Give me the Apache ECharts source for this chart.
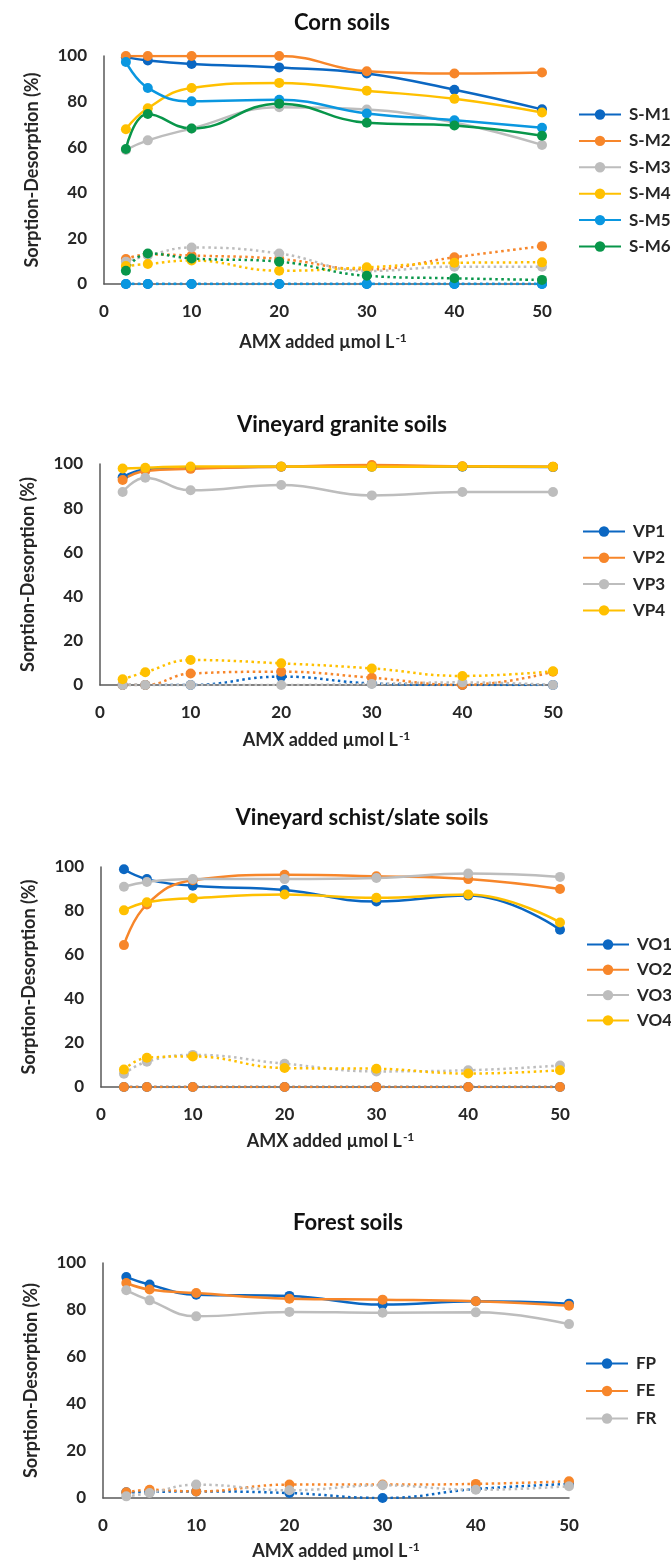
<!DOCTYPE html>
<html>
<head>
<meta charset="utf-8">
<script src="https://cdn.jsdelivr.net/npm/echarts@6/dist/echarts.min.js"></script>
<style>
html,body{margin:0;padding:0;background:#fff;}
#chart{width:671px;height:1563px;}
</style>
</head>
<body>
<div id="chart"></div>
<script>
// ---- data ----
const xVals = [2.5, 5, 10, 20, 30, 40, 50];
const xTicks = [0, 10, 20, 30, 40, 50];
const yTicks = [0, 20, 40, 60, 80, 100];

const panelTitles = ['Corn soils', 'Vineyard granite soils', 'Vineyard schist/slate soils', 'Forest soils'];

// Corn soils
const cornNames = ['S-M1', 'S-M2', 'S-M3', 'S-M4', 'S-M5', 'S-M6'];
const cornSorpM1 = [99.5, 98, 96.5, 95, 92.3, 85.2, 76.6];
const cornSorpM2 = [100, 100, 100, 100, 93.3, 92.3, 92.8];
const cornSorpM3 = [58.8, 63, 68.2, 77.5, 76.5, 70.8, 61];
const cornSorpM4 = [67.9, 77.1, 86, 88.2, 84.8, 81.2, 75.2];
const cornSorpM5 = [97.4, 86, 80.1, 80.8, 74.8, 71.8, 68.5];
const cornSorpM6 = [59.2, 74.6, 68.2, 79.1, 70.7, 69.5, 65];
const cornDesM1 = [0, 0, 0, 0, 0, 0, 0];
const cornDesM2 = [11, 13, 12.5, 11, 6.4, 11.7, 16.6];
const cornDesM3 = [9.8, 12.5, 16, 13.4, 5.7, 7.6, 7.6];
const cornDesM4 = [7.9, 8.8, 10.3, 5.8, 7.3, 9.3, 9.5];
const cornDesM5 = [0, 0, 0, 0, 0, 0, 0];
const cornDesM6 = [5.8, 13.4, 11.2, 9.8, 3.6, 2.5, 1.8];

// Vineyard granite soils
const vpNames = ['VP1', 'VP2', 'VP3', 'VP4'];
const vpSorp1 = [94, 97.5, 98.2, 98.8, 98.8, 98.8, 98.6];
const vpSorp2 = [92.8, 96.8, 97.8, 98.8, 99.5, 99, 98.8];
const vpSorp3 = [87.3, 93.8, 88.1, 90.5, 85.8, 87.3, 87.3];
const vpSorp4 = [98, 98.3, 98.9, 98.9, 98.7, 98.9, 98.7];
const vpDes1 = [0, 0, 0, 3.8, 0.7, 0, 0];
const vpDes2 = [0, 0, 5.2, 6, 3.3, 0, 6];
const vpDes3 = [0, 0, 0, 0, 0.5, 1.2, 0];
const vpDes4 = [2.6, 5.8, 11.3, 9.8, 7.5, 4.1, 6.2];

// Vineyard schist/slate soils
const voNames = ['VO1', 'VO2', 'VO3', 'VO4'];
const voSorp1 = [99, 94.5, 91.5, 89.5, 84.3, 87, 71.5];
const voSorp2 = [64.5, 83, 94, 96.5, 95.8, 94.5, 90];
const voSorp3 = [91, 93.2, 94.5, 94.5, 95, 97, 95.5];
const voSorp4 = [80.3, 84, 85.8, 87.5, 86, 87.5, 74.8];
const voDes1 = [0, 0, 0, 0, 0, 0, 0];
const voDes2 = [0, 0, 0, 0, 0, 0, 0];
const voDes3 = [6, 11.5, 14.6, 10.6, 7.1, 7.6, 9.8];
const voDes4 = [7.9, 13.3, 13.9, 8.6, 8.3, 6.1, 7.6];

// Forest soils
const fNames = ['FP', 'FE', 'FR'];
const fSorpFP = [94, 90.8, 86.5, 86, 82.3, 83.7, 82.7];
const fSorpFE = [91.5, 88.7, 87.2, 84.8, 84.4, 83.7, 81.8];
const fSorpFR = [88.4, 84.1, 77.3, 79.2, 78.8, 79, 74];
const fDesFP = [2.4, 2.6, 2.8, 2.1, 0, 3.8, 6];
const fDesFE = [2.4, 3.5, 2.8, 5.7, 5.7, 6, 7.1];
const fDesFR = [0.7, 2.1, 5.7, 3.3, 5.4, 3.5, 5];

// ---- styles ----
const C = {
  blue: '#0b67c2', orange: '#f7862a', gray: '#bdbdbd',
  gold: '#ffc000', lblue: '#0a97e0', green: '#08964a'
};
const FONT = 'Lato, "Open Sans", sans-serif';

const panels = [
  { names: cornNames, colors: [C.blue, C.orange, C.gray, C.gold, C.lblue, C.green],
    sorp: [cornSorpM1, cornSorpM2, cornSorpM3, cornSorpM4, cornSorpM5, cornSorpM6],
    des: [cornDesM1, cornDesM2, cornDesM3, cornDesM4, cornDesM5, cornDesM6],
    grid: { left: 104, width: 438, top: 56, height: 228 },
    title: { x: 342, y: 12 }, legend: { left: 578, top: 106, gap: 9.4 }, xNameGap: 48 },
  { names: vpNames, colors: [C.blue, C.orange, C.gray, C.gold],
    sorp: [vpSorp1, vpSorp2, vpSorp3, vpSorp4],
    des: [vpDes1, vpDes2, vpDes3, vpDes4],
    grid: { left: 100, width: 453, top: 464, height: 221 },
    title: { x: 342, y: 414 }, legend: { left: 582, top: 523, gap: 9.3 }, xNameGap: 45 },
  { names: voNames, colors: [C.blue, C.orange, C.gray, C.gold],
    sorp: [voSorp1, voSorp2, voSorp3, voSorp4],
    des: [voDes1, voDes2, voDes3, voDes4],
    grid: { left: 101, width: 459, top: 867, height: 220 },
    title: { x: 362, y: 807 }, legend: { left: 586, top: 936, gap: 8.3 }, xNameGap: 44 },
  { names: fNames, colors: [C.blue, C.orange, C.gray],
    sorp: [fSorpFP, fSorpFE, fSorpFR],
    des: [fDesFP, fDesFE, fDesFR],
    grid: { left: 103, width: 466, top: 1263, height: 235 },
    title: { x: 348, y: 1212 }, legend: { left: 585, top: 1355, gap: 10.5 }, xNameGap: 43 }
];

const option = {
  animation: false,
  backgroundColor: '#fff',
  textStyle: { fontFamily: FONT },
  title: [], legend: [], grid: [], xAxis: [], yAxis: [], series: []
};

panels.forEach((p, i) => {
  option.title.push({
    text: panelTitles[i], left: p.title.x, top: p.title.y, textAlign: 'center',
    padding: 0,
    textStyle: { fontFamily: FONT, fontSize: 22, fontWeight: 'bold', color: '#111' }
  });
  option.grid.push(Object.assign({ containLabel: false }, p.grid));
  option.xAxis.push({
    type: 'value', gridIndex: i, min: 0, max: 50, interval: 10,
    name: '{a|AMX added \u00b5mol L}{s|-1}', nameLocation: 'middle', nameGap: p.xNameGap,
    nameTextStyle: {
      rich: {
        a: { fontFamily: FONT, fontSize: 18, color: '#262626', fontWeight: 'bold' },
        s: { fontFamily: FONT, fontSize: 12, color: '#262626', fontWeight: 'bold', verticalAlign: 'top', padding: [0, 0, 9, 1] }
      }
    },
    axisLine: { show: true, lineStyle: { color: '#595959', width: 1.5 } },
    axisTick: { show: false }, splitLine: { show: false },
    axisLabel: { margin: 19, fontSize: 17, fontWeight: 'bold', color: '#262626', fontFamily: FONT }
  });
  option.yAxis.push({
    type: 'value', gridIndex: i, min: 0, max: 100, interval: 20,
    name: 'Sorption-Desorption (%)', nameLocation: 'middle', nameGap: 63,
    nameTextStyle: { fontFamily: FONT, fontSize: 18, fontWeight: 'bold', color: '#262626' },
    axisLine: { show: true, lineStyle: { color: '#595959', width: 1.5 } },
    axisTick: { show: false }, splitLine: { show: false },
    axisLabel: { margin: 17, fontSize: 17, fontWeight: 'bold', color: '#262626', fontFamily: FONT }
  });
  option.legend.push({
    data: p.names, orient: 'vertical', left: p.legend.left, top: p.legend.top,
    itemWidth: 42, itemHeight: 13, itemGap: p.legend.gap, padding: 0,
    selectedMode: false,
    textStyle: { fontFamily: FONT, fontSize: 17, fontWeight: 'bold', color: '#262626', padding: [0, 0, 0, 3] }
  });
  p.names.forEach((nm, k) => {
    const col = p.colors[k];
    option.series.push({
      name: nm + ' desorption', type: 'line', xAxisIndex: i, yAxisIndex: i,
      data: xVals.map((x, j) => [x, p.des[k][j]]),
      smooth: 0.45, symbol: 'circle', symbolSize: 10,
      itemStyle: { color: col },
      lineStyle: { color: col, width: 2.5, type: [2.5, 3.5] },
      z: 2
    });
  });
  p.names.forEach((nm, k) => {
    const col = p.colors[k];
    option.series.push({
      name: nm, type: 'line', xAxisIndex: i, yAxisIndex: i,
      data: xVals.map((x, j) => [x, p.sorp[k][j]]),
      smooth: 0.45, symbol: 'circle', symbolSize: 10,
      itemStyle: { color: col },
      lineStyle: { color: col, width: 2.5 },
      z: 3
    });
  });
});

const chart = echarts.init(document.getElementById('chart'), null, { renderer: 'canvas' });
chart.setOption(option);
</script>
</body>
</html>
